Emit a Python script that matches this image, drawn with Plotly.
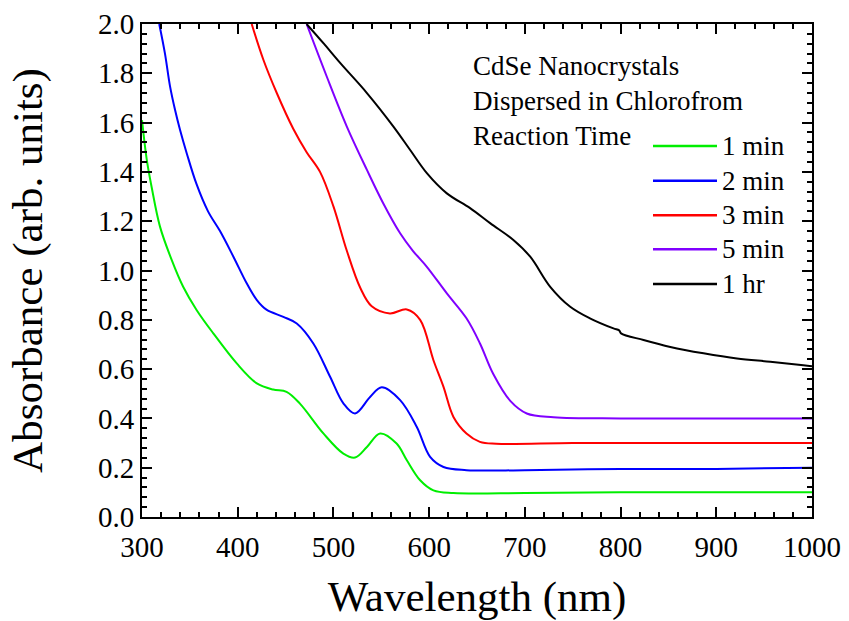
import plotly.graph_objects as go

# ---- data ----
wl_1min = [300, 305, 310, 318.8, 331, 343, 357, 374.5, 399, 420, 437, 451, 465, 489.5, 510.4, 522.6, 535, 548.8, 566, 576.7, 590.6, 604.5, 625.4, 700, 800, 900, 1000]
abs_1min = [1.61, 1.449, 1.34, 1.178, 1.043, 0.934, 0.84, 0.745, 0.623, 0.542, 0.517, 0.508, 0.46, 0.339, 0.257, 0.241, 0.284, 0.339, 0.298, 0.23, 0.149, 0.108, 0.097, 0.097, 0.10, 0.10, 0.10]

wl_2min = [318, 324, 329.3, 334.5, 339.7, 346.7, 357, 369, 381.5, 395.5, 409.4, 420, 430.4, 447.7, 461.7, 479, 496.5, 510.4, 522.6, 538.3, 550.5, 569.7, 587, 601, 615, 639, 700, 800, 900, 1000]
abs_2min = [2.0, 1.88, 1.747, 1.652, 1.571, 1.476, 1.35, 1.24, 1.16, 1.056, 0.948, 0.88, 0.84, 0.812, 0.785, 0.704, 0.569, 0.461, 0.42, 0.487, 0.526, 0.474, 0.366, 0.244, 0.203, 0.19, 0.19, 0.195, 0.195, 0.20]

wl_3min = [414.6, 426.8, 440.8, 458, 472, 486, 500, 514, 528, 540, 559, 576.7, 590.6, 604.5, 615, 625.4, 639, 653, 670, 750, 850, 1000]
abs_3min = [2.0, 1.855, 1.72, 1.575, 1.48, 1.40, 1.26, 1.08, 0.93, 0.855, 0.826, 0.842, 0.80, 0.636, 0.528, 0.406, 0.339, 0.305, 0.297, 0.30, 0.30, 0.30]

wl_5min = [472, 493, 514, 535, 552, 569.7, 583, 597.6, 618.5, 639, 653, 667, 685, 702, 730, 800, 900, 1000]
abs_5min = [2.0, 1.787, 1.584, 1.408, 1.273, 1.151, 1.08, 1.015, 0.907, 0.806, 0.705, 0.58, 0.47, 0.42, 0.405, 0.40, 0.40, 0.40]

wl_1hr = [472, 490, 507, 535, 562.7, 580, 597.6, 618.5, 642.8, 663.7, 688, 705.6, 726.5, 747.4, 768, 792.6, 798.5, 800.5, 824, 852, 886.7, 921.6, 956.4, 991, 1000]
abs_1hr = [2.0, 1.92, 1.842, 1.72, 1.584, 1.49, 1.395, 1.313, 1.253, 1.192, 1.124, 1.056, 0.934, 0.853, 0.806, 0.765, 0.757, 0.745, 0.718, 0.69, 0.664, 0.643, 0.63, 0.616, 0.612]

series_names = ["1 min", "2 min", "3 min", "5 min", "1 hr"]
series_x = [wl_1min, wl_2min, wl_3min, wl_5min, wl_1hr]
series_y = [abs_1min, abs_2min, abs_3min, abs_5min, abs_1hr]
colors = ["#00ee00", "#0000ff", "#ff0000", "#8000ff", "#000000"]

x_ticks = [300, 400, 500, 600, 700, 800, 900, 1000]
y_ticks = [0.0, 0.2, 0.4, 0.6, 0.8, 1.0, 1.2, 1.4, 1.6, 1.8, 2.0]

FONT = "Liberation Serif"

fig = go.Figure()
for name, xs, ys, c in zip(series_names, series_x, series_y, colors):
    fig.add_trace(go.Scatter(x=xs, y=ys, mode="lines", name=name,
                             line=dict(color=c, width=2, shape="spline", smoothing=1.0),
                             showlegend=False, cliponaxis=True))

axis_common = dict(showline=True, linecolor="black", linewidth=2, mirror="ticks",
                   ticks="inside", ticklen=10, tickwidth=1.5, tickcolor="black",
                   showgrid=False, zeroline=False, automargin=False,
                   tickfont=dict(family=FONT, size=29, color="black"))

fig.update_xaxes(range=[300, 1000], tickvals=x_ticks, ticktext=[str(v) for v in x_ticks],
                 minor=dict(ticks="inside", ticklen=5, dtick=20, tick0=300, tickcolor="black", tickwidth=1.5),
                 title=dict(text="Wavelength (nm)", font=dict(family=FONT, size=43, color="black"), standoff=26),
                 ticklabelstandoff=3,
                 **axis_common)
fig.update_yaxes(range=[0, 2.0], tickvals=y_ticks, ticktext=[f"{v:.1f}" for v in y_ticks],
                 minor=dict(ticks="inside", ticklen=5, dtick=0.04, tick0=0, tickcolor="black", tickwidth=1.5),
                 title=dict(text="Absorbance (arb. units)", font=dict(family=FONT, size=43, color="black"), standoff=42),
                 **axis_common)

# plot area in pixels: left 142, right 812, top 24, bottom 517
L, R, T, B = 142, 812, 24, 517
W, H = R - L, B - T
def px(xp):
    return (xp - L) / W
def py(yp):
    return (B - yp) / H

fig.add_annotation(x=px(471), y=py(49), xref="paper", yref="paper", xanchor="left", yanchor="top",
                   text="CdSe Nanocrystals<br>Dispersed in Chlorofrom<br>Reaction Time",
                   align="left", showarrow=False, font=dict(family=FONT, size=27, color="black"))

legend_y = [146, 180.7, 215.3, 249.3, 284]
for name, c, yp in zip(series_names, colors, legend_y):
    fig.add_shape(type="line", xref="paper", yref="paper", x0=px(653), x1=px(717), y0=py(yp), y1=py(yp),
                  line=dict(color=c, width=2.5))
    fig.add_annotation(x=px(720), y=py(yp), xref="paper", yref="paper", xanchor="left", yanchor="middle",
                       text=name, showarrow=False, font=dict(family=FONT, size=27, color="black"))

fig.update_layout(width=849, height=621, margin=dict(l=L, r=849 - R, t=T, b=621 - B),
                  paper_bgcolor="white", plot_bgcolor="white",
                  font=dict(family=FONT, color="black"))

fig.write_html("out.html")
